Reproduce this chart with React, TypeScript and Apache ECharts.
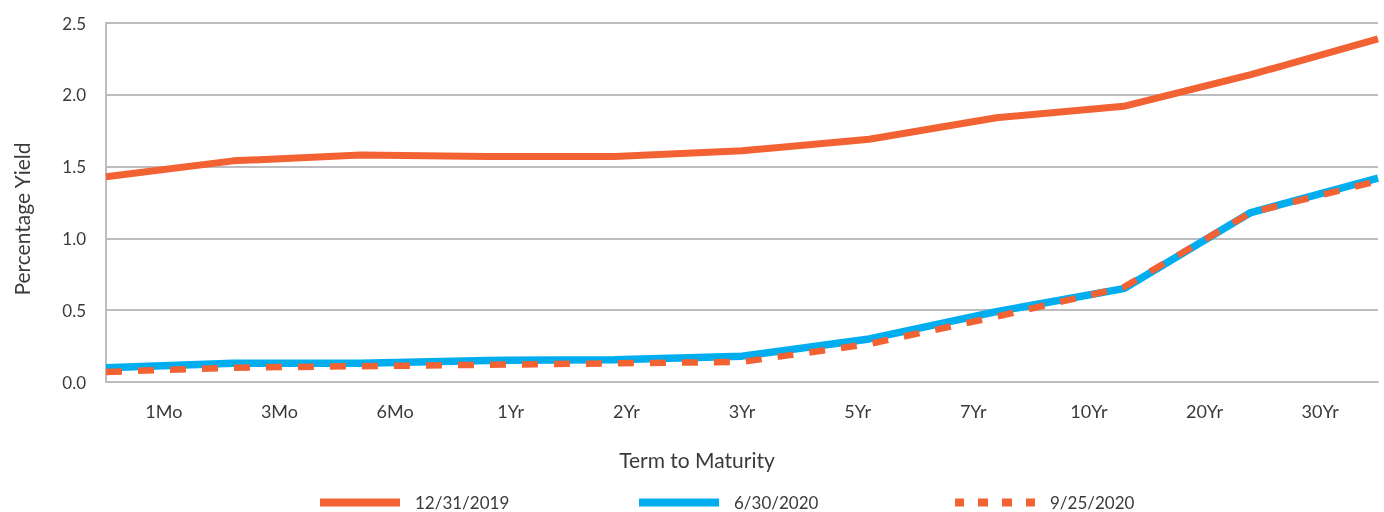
import React, { useEffect, useRef } from "react";
import * as echarts from "echarts";

const categories = ["1Mo", "3Mo", "6Mo", "1Yr", "2Yr", "3Yr", "5Yr", "7Yr", "10Yr", "20Yr", "30Yr"];
const yield20191231 = [1.43, 1.54, 1.58, 1.57, 1.57, 1.61, 1.69, 1.84, 1.92, 2.14, 2.39];
const yield20200630 = [0.1, 0.13, 0.13, 0.15, 0.155, 0.18, 0.3, 0.49, 0.65, 1.18, 1.42];
const yield20200925 = [0.07, 0.1, 0.11, 0.12, 0.13, 0.14, 0.265, 0.455, 0.66, 1.18, 1.4];
const seriesNames = ["12/31/2019", "6/30/2020", "9/25/2020"];
const yTicks = { min: 0, max: 2.5, interval: 0.5 };
const xTitle = "Term to Maturity";
const yTitle = "Percentage Yield";

const RED = "#F26233";
const BLUE = "#00AEEF";
const FONT = "Lato";
const TEXT = "#3a3a3a";
const GRID = "#BDBDBF";

const DASH_ICON = "path://M0,0H9V8H0Z M23,0H33V8H23Z M47,0H57V8H47Z M71,0H80V8H71Z";

export default function App() {
  const ref = useRef<HTMLDivElement>(null);
  useEffect(() => {
    if (!ref.current) return;
    const chart = echarts.init(ref.current, undefined, { renderer: "svg" });
    const legendBase = {
      top: 494,
      padding: 0,
      itemWidth: 80,
      itemHeight: 8,
      itemGap: 0,
      itemStyle: { borderWidth: 0 },
      textStyle: { fontFamily: FONT, fontSize: 17, color: TEXT, padding: [0, 0, 0, 10] },
    };
    chart.setOption({
      animation: false,
      textStyle: { fontFamily: FONT },
      grid: { left: 106, right: 6, top: 23, bottom: 130, containLabel: false, outerBoundsMode: "none" },
      legend: [
        { ...legendBase, left: 320, icon: "rect", data: [seriesNames[0]] },
        { ...legendBase, left: 639, icon: "rect", data: [seriesNames[1]] },
        { ...legendBase, left: 955, icon: DASH_ICON, data: [seriesNames[2]] },
      ],
      xAxis: [
        {
          type: "category",
          data: categories,
          boundaryGap: true,
          axisLine: { show: true, lineStyle: { color: GRID, width: 2 } },
          axisTick: { show: false },
          axisLabel: { color: TEXT, fontSize: 18, fontFamily: FONT, margin: 20 },
        },
        {
          type: "category",
          data: categories,
          boundaryGap: false,
          show: false,
        },
      ],
      yAxis: {
        type: "value",
        min: yTicks.min,
        max: yTicks.max,
        interval: yTicks.interval,
        axisLine: { show: true, lineStyle: { color: GRID, width: 2 } },
        axisTick: { show: false },
        axisLabel: {
          color: TEXT,
          fontSize: 17,
          fontFamily: FONT,
          margin: 20,
          formatter: (v: number) => v.toFixed(1),
        },
        splitLine: { show: true, lineStyle: { color: GRID, width: 2 } },
      },
      graphic: [
        {
          type: "text",
          x: 21,
          y: 219,
          rotation: Math.PI / 2,
          style: { text: yTitle, fill: TEXT, font: `21px ${FONT}`, align: "center", verticalAlign: "middle" },
        },
        {
          type: "text",
          x: 697,
          y: 459,
          style: { text: xTitle, fill: TEXT, font: `21px ${FONT}`, align: "center", verticalAlign: "middle" },
        },
      ],
      series: [
        {
          name: seriesNames[0],
          type: "line",
          xAxisIndex: 1,
          data: yield20191231,
          symbol: "none",
          lineStyle: { color: RED, width: 7 },
          itemStyle: { color: RED },
          z: 3,
        },
        {
          name: seriesNames[1],
          type: "line",
          xAxisIndex: 1,
          data: yield20200630,
          symbol: "none",
          lineStyle: { color: BLUE, width: 7.5 },
          itemStyle: { color: BLUE },
          z: 2,
        },
        {
          name: seriesNames[2],
          type: "line",
          xAxisIndex: 1,
          data: yield20200925,
          symbol: "none",
          lineStyle: { color: RED, width: 6.5, type: [16, 16] },
          itemStyle: { color: RED },
          z: 4,
        },
      ],
    });
    return () => chart.dispose();
  }, []);
  return <div ref={ref} style={{ position: "fixed", left: 0, top: 0, width: 1384, height: 512 }} />;
}
